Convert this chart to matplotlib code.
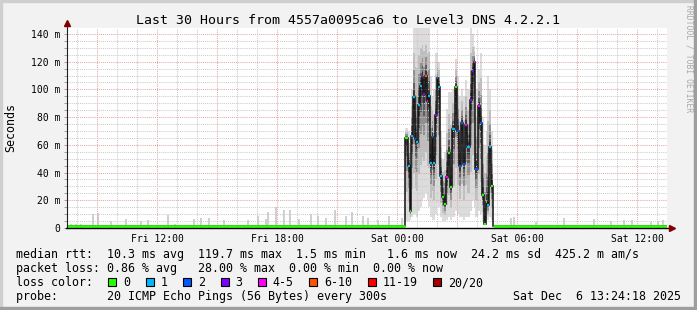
import numpy as np
import matplotlib
matplotlib.use("Agg")
import matplotlib.pyplot as plt
from matplotlib.patches import Rectangle

plt.rcParams["font.family"] = "DejaVu Sans Mono"

W, H = 697, 310

# time axis in hours relative to Sat 00:00, values in milliseconds
x_start, x_end = -16.5, 13.5
tick_hours = [-12, -6, 0, 6, 12]
tick_labels = ["Fri 12:00", "Fri 18:00", "Sat 00:00", "Sat 06:00", "Sat 12:00"]
y_ticks = [0, 20, 40, 60, 80, 100, 120, 140]
y_labels = ["0", "20 m", "40 m", "60 m", "80 m", "100 m", "120 m", "140 m"]

calm_median = 1.5

# the burst of high latency on Saturday night
burst_start, burst_end = 0.40, 4.78
burst_hours = [0.45, 0.60, 0.67, 0.76, 0.84, 0.93, 1.00, 1.09, 1.19, 1.26,
               1.36, 1.46, 1.525, 1.59, 1.69, 1.76, 1.86, 1.95, 2.03, 2.10,
               2.19, 2.30, 2.38, 2.48, 2.58, 2.69, 2.83, 2.95, 3.08, 3.16,
               3.28, 3.36, 3.46, 3.58, 3.69, 3.78, 3.87, 3.96, 4.09, 4.19,
               4.27, 4.39, 4.47, 4.54, 4.64, 4.73]
burst_median = [65, 44.7, 12.5, 66.4, 94.3, 64, 62.3, 88.7, 102.7, 109,
                97, 110, 91.6, 95, 47, 65.4, 47, 81.5, 108, 102,
                37.7, 22.6, 17.3, 36.6, 53.9, 29.8, 71.2, 101.5, 70, 44.7,
                75.5, 46.4, 74.3, 58.2, 92.3, 113.5, 120, 42.3, 88, 75.5,
                23.8, 2.9, 19, 16.6, 58.2, 30.3]
burst_hi = [72, 70, 60, 100, 144, 144, 144, 144, 144, 144,
            144, 144, 144, 144, 110, 95, 100, 126, 126, 120,
            70, 50, 55, 86, 98, 98, 100, 122, 110, 95,
            100, 95, 107, 100, 144, 140, 131, 100, 115, 126,
            80, 60, 70, 110, 100, 70]
burst_lo = [5, 5, 6, 8, 10, 10, 8, 12, 15, 20,
            22, 25, 20, 15, 8, 6, 6, 10, 18, 15,
            8, 5, 5, 6, 8, 6, 8, 12, 10, 8,
            8, 6, 8, 8, 12, 20, 15, 8, 12, 10,
            5, 3, 4, 6, 8, 6]
burst_loss = [0, 1, 0, 1, 1, 2, 1, 1, 1, 3,
              3, 5, 4, 1, 1, 2, 1, 3, 2, 1,
              1, 0, 0, 4, 0, 0, 1, 0, 2, 2,
              2, 2, 4, 1, 3, 3, 4, 2, 4, 2,
              0, 0, 0, 1, 1, 0]

# small smoke spikes during the quiet hours
spike_hours = [-16.30, -16.05, -15.80, -15.20, -14.95, -14.30, -13.55, -12.80,
               -12.45, -11.45, -11.10, -10.15, -9.80, -9.40, -8.65, -7.45,
               -6.95, -6.55, -6.45, -6.05, -5.65, -5.35, -4.90, -4.30, -3.95,
               -3.55, -3.10, -2.55, -2.25, -1.70, -1.45, -0.95, -0.40, 0.25,
               5.70, 5.85, 6.95, 8.35, 9.85, 10.70, 11.35, 11.75, 12.70,
               13.05, 13.30]
spike_height = [3, 3, 3, 10, 10.5, 5, 6.5, 5,
                5.5, 9.4, 3, 6.5, 7.5, 7.5, 5.5, 5.8,
                8.7, 6.5, 11.8, 15.4, 13, 13, 6.2, 10, 8.3,
                7, 13, 8.3, 11.8, 8.3, 7.5, 6, 8.3, 7.5,
                7, 8, 4.6, 7.5, 6.5, 5, 5.5, 5.5, 4.6,
                5, 5.5]

loss_labels = ["0", "1", "2", "3", "4-5", "6-10", "11-19", "20/20"]
loss_colors = ["#26ff00", "#00b8ff", "#0059ff", "#7e00ff",
               "#ff00ff", "#ff5500", "#ff0000", "#a10000"]

stats_line1 = "median rtt:  10.3 ms avg  119.7 ms max  1.5 ms min   1.6 ms now  24.2 ms sd  425.2 m am/s"
stats_line2 = "packet loss: 0.86 % avg   28.00 % max  0.00 % min  0.00 % now"
probe_text = "probe:       20 ICMP Echo Pings (56 Bytes) every 300s"
date_text = "Sat Dec  6 13:24:18 2025"
title = "Last 30 Hours from 4557a0095ca6 to Level3 DNS 4.2.2.1"


def px(x, y):
    return x / W, 1 - y / H


fig = plt.figure(figsize=(W / 100, H / 100), dpi=100)
fig.patch.set_facecolor("#f2f2f2")

# 3d-ish frame
fig.add_artist(Rectangle((0, 1 - 2 / H), 1, 2 / H, transform=fig.transFigure, color="#cfcfcf"))
fig.add_artist(Rectangle((0, 0), 2 / W, 1, transform=fig.transFigure, color="#cfcfcf"))
fig.add_artist(Rectangle((1 - 3 / W, 0), 3 / W, 1, transform=fig.transFigure, color="#9e9e9e"))
fig.add_artist(Rectangle((0, 0), 1, 3 / H, transform=fig.transFigure, color="#9e9e9e"))

ax = fig.add_axes([67 / W, 82 / H, 600 / W, 200.3 / H])
ax.set_facecolor("white")
ax.set_xlim(x_start, x_end)
ax.set_ylim(0, 144.5)
for s in ax.spines.values():
    s.set_visible(False)

# grid
for h in np.arange(np.ceil(x_start), x_end, 1):
    col = "#e8a8a8" if h % 3 == 0 else "#cccccc"
    ax.axvline(h, color=col, lw=0.75, ls=(0, (1, 1)), zorder=2.5)
for v in np.arange(5, 145, 5):
    col = "#e8a8a8" if v % 20 == 0 else "#cccccc"
    ax.axhline(v, color=col, lw=0.75, ls=(0, (1, 1)), zorder=2.5)

# quiet-time smoke
ax.bar(spike_hours, spike_height, width=0.1, color="#d0d0d0", lw=0, zorder=2)

# burst smoke, shaded darker towards the median
hours = np.array(burst_hours)
med = np.array(burst_median, dtype=float)
hi = np.array(burst_hi, dtype=float)
lo = np.array(burst_lo, dtype=float)
edges = np.concatenate([[burst_start], (hours[1:] + hours[:-1]) / 2, [burst_end]])
left = edges[:-1]
width = np.diff(edges)
for frac, col in [(1.0, "#dcdcdc"), (0.65, "#bebebe"), (0.4, "#909090"),
                  (0.22, "#606060"), (0.1, "#383838")]:
    top = med + frac * (hi - med)
    bot = med - frac * (med - lo)
    ax.bar(left, top - bot, bottom=bot, width=width, align="edge",
           color=col, lw=0, zorder=2)

# median line
all_edges = np.concatenate([[x_start], edges, [x_end]])
all_vals = np.concatenate([[calm_median], med, [calm_median]])
ax.stairs(all_vals, all_edges, baseline=None, color="#111111", lw=1.1, zorder=3)
ax.hlines([calm_median, calm_median], [x_start, burst_end], [burst_start, x_end],
          color=loss_colors[0], lw=1.9, zorder=4)
for l, w, m, k in zip(left, width, med, burst_loss):
    ax.hlines(m, l, l + w, color=loss_colors[k], lw=1.6, zorder=4)

# axes with arrows
ax.plot([0, 0], [0, 1.025], transform=ax.transAxes, color="#202020",
        lw=0.8, clip_on=False, zorder=5)
ax.plot([-0.002, 1.008], [0, 0], transform=ax.transAxes, color="#000000",
        lw=1.0, clip_on=False, zorder=5)
ax.plot(0, 1.025, marker="^", ms=4.5, color="#800000", transform=ax.transAxes,
        clip_on=False, zorder=6)
ax.plot(1.009, 0, marker=">", ms=4.5, color="#800000", transform=ax.transAxes,
        clip_on=False, zorder=6)

ax.set_yticks(y_ticks, y_labels)
ax.set_yticks(np.arange(0, 145, 5), minor=True)
ax.tick_params(axis="y", which="both", length=2.2, width=0.6, color="#909090",
               pad=2.5, labelsize=7)
ax.set_xticks(tick_hours, tick_labels)
ax.tick_params(axis="x", which="both", length=0, pad=4.5, labelsize=7)

# texts
fig.text(*px(347.5, 24), title, ha="center", va="baseline", fontsize=9.5)
fig.text(*px(10.3, 127.5), "Seconds", rotation=90, ha="center", va="center",
         fontsize=8.4)
fig.text(*px(688.5, 5), "RRDTOOL / TOBI OETIKER", rotation=270, ha="center",
         va="top", fontsize=5.8, color="#a8a8a8")

fs = 8.4
fig.text(*px(16, 258), stats_line1, ha="left", va="baseline", fontsize=fs)
fig.text(*px(16, 272), stats_line2, ha="left", va="baseline", fontsize=fs)
fig.text(*px(16, 286), "loss color:", ha="left", va="baseline", fontsize=fs)
fig.text(*px(16, 300), probe_text, ha="left", va="baseline", fontsize=fs)
fig.text(*px(681, 300), date_text, ha="right", va="baseline", fontsize=fs)

sx = 108.3
for lab, col in zip(loss_labels, loss_colors):
    fig.add_artist(Rectangle(px(sx, 286), 8 / W, 8 / H, transform=fig.transFigure,
                             facecolor=col, edgecolor="black", lw=0.8))
    fig.text(*px(sx + 15, 286), lab, ha="left", va="baseline", fontsize=fs)
    sx = sx + 15 + 7 * len(lab) + 15.4

fig.savefig("out.png", dpi=100, facecolor=fig.get_facecolor())
